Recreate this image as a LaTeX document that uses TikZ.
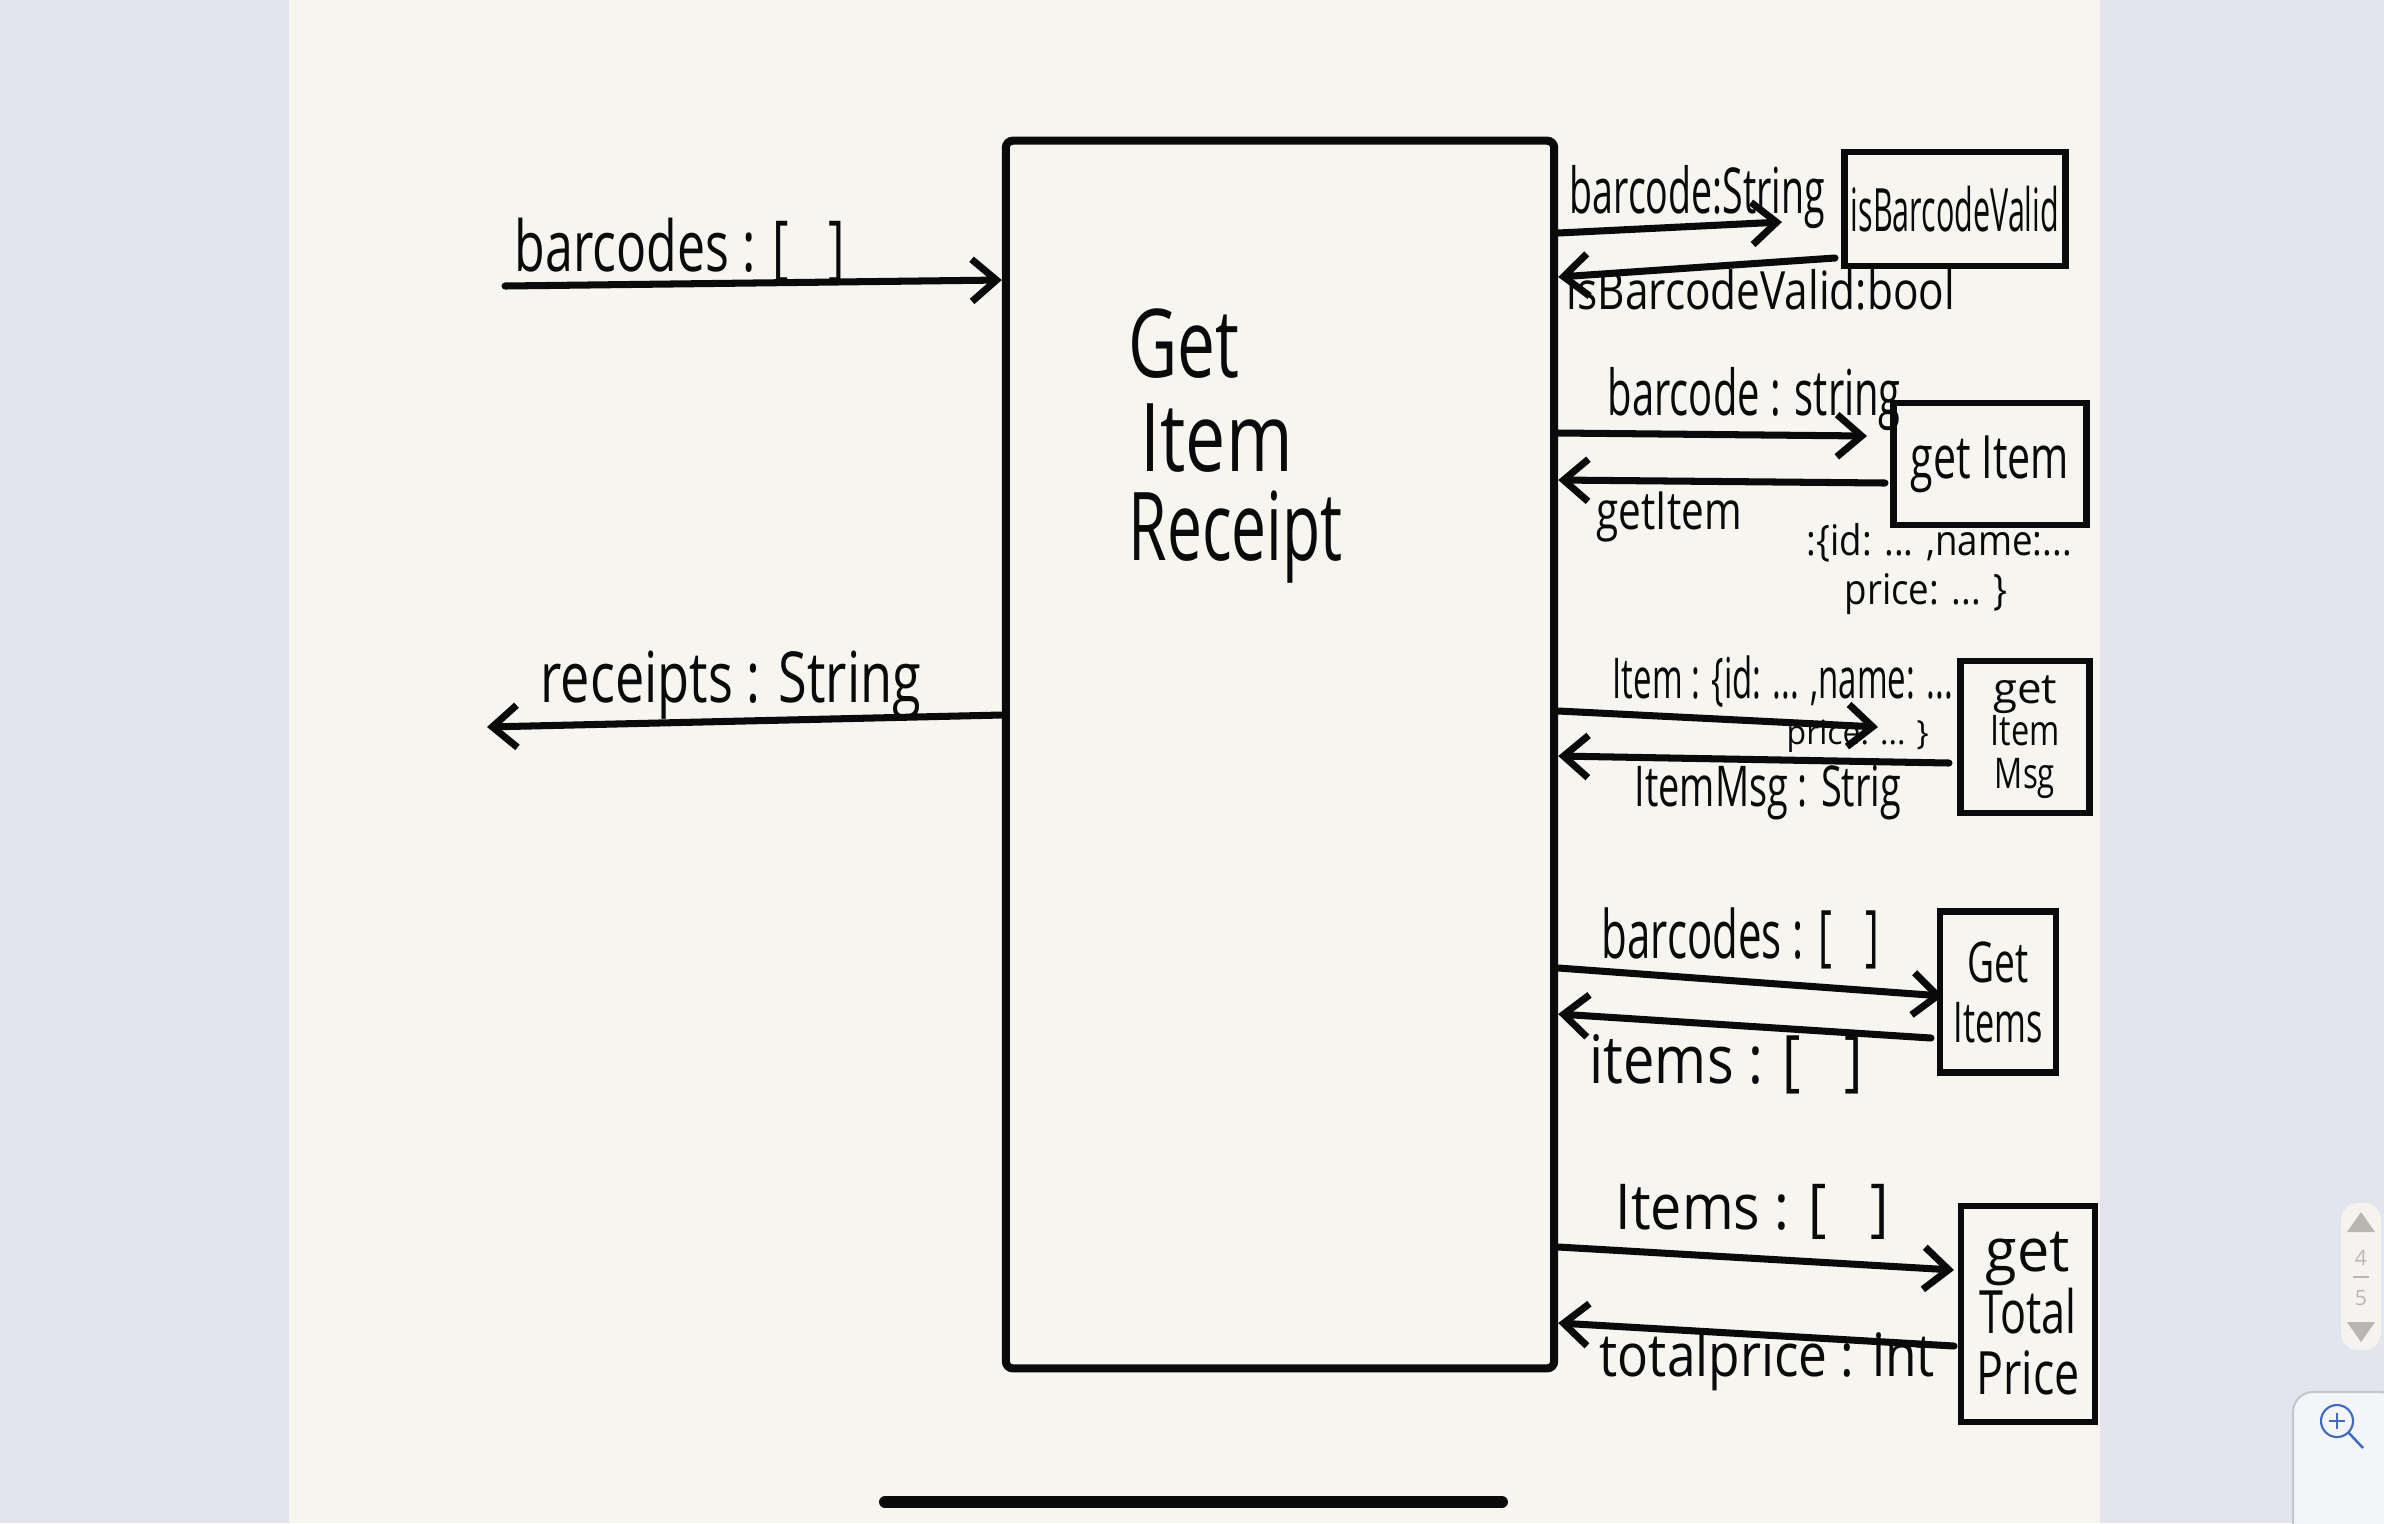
\documentclass[tikz,border=0pt]{standalone}
\usepackage{fontspec}
\setmainfont{Open Sans}
\usepackage{graphicx}
\usetikzlibrary{arrows.meta}
\newcommand\fitw[2]{\resizebox{#1}{\height}{#2}}
\definecolor{paper}{HTML}{F6F5F0}
\definecolor{outerbg}{HTML}{E2E5EE}
\definecolor{ink}{HTML}{0A0A0A}
\definecolor{widget}{HTML}{F4F3EF}
\definecolor{widgetink}{HTML}{B8B7AF}
\definecolor{btnfill}{HTML}{F3F5F9}
\definecolor{btnline}{HTML}{C3C6CE}
\definecolor{iconblue}{HTML}{3F6AC0}
\tikzset{
  lbl/.style={anchor=base west, inner sep=0, text=ink, font=\fontsize{#1}{#1}\selectfont},
  lbl/.default=19,
  mainbox/.style={draw=ink, line width=2.3pt, rounded corners=2pt},
  hbox/.style={draw=ink, line width=1.8pt, inner sep=0, align=center, text=ink, font=\fontsize{17}{19}\selectfont},
  arr/.style={draw=ink, line width=2pt, line cap=round, -{Straight Barb[length=7pt,width=12pt,line width=2pt]}}
}
\begin{document}
\begin{tikzpicture}[x=0.01cm,y=-0.01cm]
\useasboundingbox (0,0) rectangle (2384,1523);
\fill[outerbg] (0,0) rectangle (2384,1523);
\fill[paper] (289,0) rectangle (2100,1523);

% main process box
\node[mainbox, minimum width=5.48cm, minimum height=12.27cm] (main) at (1280,754.5) {};
\node[lbl=27] (t1) at (1128,377) {\fitw{1.11cm}{Get}};
\node[lbl=27] (t2) at (1140,471) {\fitw{1.52cm}{Item}};
\node[lbl=27] (t3) at (1128,560) {\fitw{2.14cm}{Receipt}};

% left side input / output
\node[lbl=20] (inlbl) at (514,271) {\fitw{3.3cm}{barcodes : [~~~]}};
\coordinate (inS) at (505,286);
\draw[arr] (inS) -- (main.west |- 0,280);
\node[lbl=20] (outlbl) at (540,702) {\fitw{3.8cm}{receipts : String}};
\coordinate (outE) at (487,727);
\draw[arr] (main.west |- 0,715) -- (outE);

% 1: isBarcodeValid
\node[hbox, minimum width=2.21cm, minimum height=1.14cm] (ibv) at (1955,209) {\fitw{2.08cm}{isBarcodeValid}};
\node[lbl=18] (l1a) at (1569,213) {\fitw{2.55cm}{barcode:String}};
\node[lbl=15] (l1b) at (1566,309) {\fitw{3.88cm}{isBarcodeValid:bool}};
\coordinate (e1a) at (1782,222);
\coordinate (s1b) at (1835,258);
\draw[arr] (main.east |- 0,233) -- (e1a);
\draw[arr] (s1b) -- (main.east |- 0,277);

% 2: getItem
\node[hbox, minimum width=1.93cm, minimum height=1.22cm] (gi) at (1990,464) {\fitw{1.58cm}{get Item}};
\node[lbl=15] (l2b) at (1596,529) {\fitw{1.45cm}{getItem}};
\node[lbl=18] (l2a) at (1607,415) {\fitw{2.93cm}{barcode : string}};
\node[lbl=12] (l2c) at (1806,555) {\fitw{2.65cm}{:\{id: ... ,name:...}};
\node[lbl=12] (l2d) at (1844,604) {\fitw{1.63cm}{price: ... \}}};
\coordinate (e2a) at (1867,436);
\coordinate (s2b) at (1885,483);
\draw[arr] (main.east |- 0,433) -- (e2a);
\draw[arr] (s2b) -- (main.east |- 0,480);

% 3: getItemMsg
\node[hbox, minimum width=1.29cm, minimum height=1.52cm, font=\fontsize{12}{12}\selectfont] (gim) at (2025,737)
  {\fitw{0.64cm}{get}\\\fitw{0.69cm}{Item}\\\fitw{0.60cm}{Msg}};
\node[lbl=16] (l3a) at (1612,698) {\fitw{3.40cm}{Item : \{id: ... ,name: ...}};
\node[lbl=9.5] (l3b) at (1786,744) {\fitw{1.42cm}{price: ... \}}};
\node[lbl=16] (l3c) at (1634,806) {\fitw{2.66cm}{ItemMsg : Strig}};
\coordinate (e3a) at (1878,727);
\coordinate (s3b) at (1949,763);
\draw[arr] (main.east |- 0,711) -- (e3a);
\draw[arr] (s3b) -- (main.east |- 0,756);

% 4: GetItems
\node[hbox, minimum width=1.16cm, minimum height=1.61cm, font=\fontsize{16}{17}\selectfont] (gis) at (1998,992)
  {\fitw{0.61cm}{Get}\\\fitw{0.89cm}{Items}};
\node[lbl=19] (l4a) at (1601,958) {\fitw{2.77cm}{barcodes : [~~~]}};
\node[lbl=19] (l4b) at (1589,1083) {\fitw{2.73cm}{items : [~~~]}};
\coordinate (e4a) at (1943,996);
\coordinate (s4b) at (1931,1038);
\draw[arr] (main.east |- 0,968) -- (e4a);
\draw[arr] (s4b) -- (main.east |- 0,1014);

% 5: getTotalPrice
\node[hbox, minimum width=1.34cm, minimum height=2.16cm, font=\fontsize{17}{17.5}\selectfont] (gtp) at (2028,1314)
  {\fitw{0.84cm}{get}\\\fitw{0.97cm}{Total}\\\fitw{1.03cm}{Price}};
\node[lbl=18] (l5a) at (1615,1229) {\fitw{2.73cm}{Items : [~~~]}};
\node[lbl=17] (l5b) at (1599,1376) {\fitw{3.35cm}{totalprice : int}};
\coordinate (e5a) at (1954,1270);
\coordinate (s5b) at (1954,1346);
\draw[arr] (main.east |- 0,1247) -- (e5a);
\draw[arr] (s5b) -- (main.east |- 0,1323);

% screen chrome
\draw[ink, line width=3.4pt, line cap=round] (885,1502) -- (1502,1502);
\fill[widget, rounded corners=0.17cm] (2341,1203) rectangle (2381,1350);
\fill[widgetink] (2361,1212) -- (2375,1232) -- (2347,1232) -- cycle;
\node[inner sep=0, text=widgetink, font=\fontsize{6}{6}\selectfont] (pg4) at (2361,1258) {4};
\draw[widgetink, line width=0.5pt] (2353,1277) -- (2369,1277);
\node[inner sep=0, text=widgetink, font=\fontsize{6}{6}\selectfont] (pg5) at (2361,1298) {5};
\fill[widgetink] (2361,1342) -- (2375,1322) -- (2347,1322) -- cycle;
\filldraw[fill=btnfill, draw=btnline, line width=0.6pt, rounded corners=0.2cm] (2293,1530) -- (2293,1392) -- (2400,1392) -- (2400,1530);
\draw[iconblue, line width=0.6pt] (2337,1421) circle (0.16cm);
\draw[iconblue, line width=0.6pt] (2337,1413) -- (2337,1429) (2329,1421) -- (2345,1421);
\draw[iconblue, line width=0.7pt] (2348.5,1432.5) -- (2363,1448);
\end{tikzpicture}
\end{document}
